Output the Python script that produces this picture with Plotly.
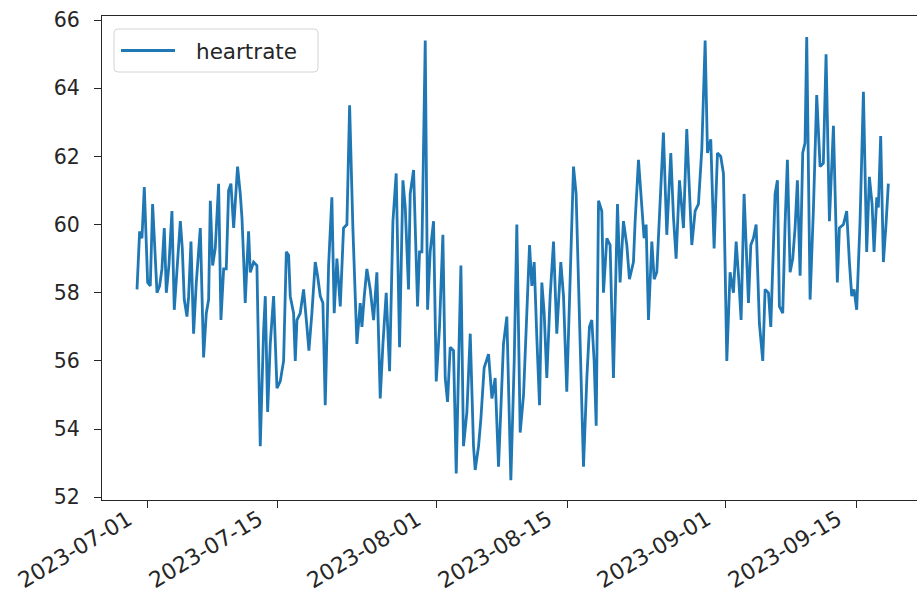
import pandas as pd
import plotly.graph_objects as go

# day offsets from 2023-07-01 and heartrate values
days = [
    -1.07, -0.79, -0.54, -0.29, -0.07, 0.07, 0.35, 0.60, 0.82, 1.07, 1.35, 1.60, 1.85, 2.07, 2.35, 2.67,
    2.92, 3.21, 3.57, 3.78, 3.99, 4.28, 4.46, 4.71, 4.99, 5.28, 5.71, 6.06, 6.35, 6.60, 6.78, 7.03,
    7.31, 7.67, 7.92, 8.21, 8.49, 8.74, 8.99, 9.28, 9.70, 9.99,
    10.17, 10.35, 10.52, 10.70, 10.88, 11.06, 11.42, 11.77, 12.13, 12.49, 12.67, 12.92, 13.20, 13.56,
    13.92, 14.27, 14.63, 14.92, 15.17, 15.34, 15.70, 15.88, 16.06, 16.41, 16.77, 17.13, 17.34, 17.66,
    18.02, 18.27, 18.56, 18.84, 19.09, 19.45, 19.80, 20.05, 20.34, 20.70, 21.05, 21.41, 21.70, 22.05,
    22.48, 22.84,
    23.02, 23.27, 23.55, 23.91, 24.27, 24.62, 24.98, 25.27, 25.62, 25.98, 26.34, 26.69, 27.05, 27.41,
    27.66, 28.01, 28.19, 28.55, 28.98, 29.19, 29.44, 29.80, 30.05, 30.33, 30.69, 30.98, 31.33, 31.69,
    31.94, 32.19, 32.47, 32.83, 33.12, 33.40, 33.62, 33.90, 34.26, 34.62, 34.97, 35.15, 35.51, 35.76,
    36.11, 36.58, 36.94, 37.29, 37.65,
    38.18, 38.54, 38.97, 39.33, 39.61, 39.97, 40.33, 40.68, 40.97, 41.22, 41.47, 41.75, 42.04, 42.29,
    42.54, 42.82, 43.18, 43.54, 43.89, 44.32, 44.61, 44.96, 45.32, 45.68, 45.96, 46.21, 46.46, 46.75,
    47.11, 47.39, 47.64, 47.89, 48.11, 48.36, 48.71, 48.89, 49.25, 49.60, 49.96, 50.39, 50.67, 51.03,
    51.39, 51.67,
    52.10, 52.28, 52.64, 52.99, 53.24, 53.46, 53.71, 54.07, 54.32, 54.60, 54.89, 55.31, 55.67, 56.10,
    56.39, 56.67, 57.03, 57.46, 57.81, 58.10, 58.35, 58.71, 59.06, 59.42, 59.78, 60.03, 60.38, 60.74,
    61.10, 61.45, 61.74, 62.10, 62.45, 62.81, 63.10, 63.38, 63.63, 63.95, 64.42, 64.67, 64.95, 65.24,
    65.59, 65.95, 66.20, 66.56, 66.81, 67.27, 67.52, 67.73, 68.09, 68.34, 68.59, 68.88, 69.16, 69.41,
    69.66, 69.95, 70.23, 70.48, 70.66, 71.02, 71.37, 71.73, 72.09, 72.44, 72.73, 73.09, 73.34, 73.52,
    73.94, 74.16, 74.59, 74.94, 75.23, 75.48, 75.73, 76.01, 76.37, 76.73, 77.08, 77.37, 77.66, 77.87,
    78.16, 78.33, 78.58, 78.87, 79.15, 79.40,
]
heartrate = [
    58.1, 59.8, 59.6, 61.1, 59.4, 58.3, 58.2, 60.6, 59.4, 58.0, 58.2, 58.7, 59.9, 58.0, 58.8, 60.4,
    57.5, 58.7, 60.1, 59.3, 57.8, 57.3, 57.9, 59.5, 56.8, 58.3, 59.9, 56.1, 57.4, 57.8, 60.7, 58.8,
    59.3, 61.2, 57.2, 58.7, 58.7, 61.0, 61.2, 59.9, 61.7, 60.9,
    60.2, 59.0, 57.7, 58.8, 59.8, 58.6, 58.9, 58.8, 53.5, 56.9, 57.9, 54.5, 56.5, 57.9,
    55.2, 55.4, 56.0, 59.2, 59.1, 57.9, 57.4, 56.0, 57.2, 57.4, 58.1, 57.0, 56.3, 57.4,
    58.9, 58.5, 57.9, 57.7, 54.7, 58.8, 60.8, 57.4, 59.0, 57.6, 59.9, 60.0, 63.5, 59.9,
    56.5, 57.7,
    57.0, 57.9, 58.7, 58.1, 57.2, 58.6, 54.9, 56.5, 58.0, 55.7, 60.1, 61.5, 56.4, 61.3,
    60.5, 58.1, 60.9, 61.6, 57.6, 59.2, 59.2, 65.4, 57.5, 59.2, 60.1, 55.4, 57.0, 59.7,
    55.5, 54.8, 56.4, 56.3, 52.7, 56.2, 58.8, 53.5, 54.5, 56.8, 53.5, 52.8, 53.5, 54.3,
    55.8, 56.2, 54.9, 55.5, 52.9,
    56.5, 57.3, 52.5, 56.0, 60.0, 53.9, 55.0, 57.4, 59.4, 58.2, 58.9, 56.7, 54.7, 58.3,
    57.4, 55.5, 57.9, 59.5, 56.8, 58.9, 57.9, 55.1, 58.6, 61.7, 60.9, 58.4, 56.0, 52.9,
    55.5, 57.0, 57.2, 56.0, 54.1, 60.7, 60.4, 58.0, 59.6, 59.4, 55.5, 60.6, 58.3, 60.1,
    59.4, 58.4,
    58.9, 60.1, 61.9, 60.4, 59.6, 60.0, 57.2, 59.5, 58.4, 58.6, 60.1, 62.7, 59.7, 62.1,
    60.2, 59.0, 61.3, 59.9, 62.8, 60.8, 59.4, 60.4, 60.6, 62.2, 65.4, 62.1, 62.5, 59.3,
    62.1, 62.0, 61.5, 56.0, 58.6, 58.0, 59.5, 58.4, 57.2, 60.9, 57.7, 59.4, 59.6, 60.0,
    57.1, 56.0, 58.1, 58.0, 57.0, 60.9, 61.3, 57.6, 57.4, 60.0, 61.9, 58.6, 59.0, 59.9,
    61.3, 58.5, 62.1, 62.4, 65.5, 57.8, 60.4, 63.8, 61.7, 61.8, 65.0, 60.1, 61.7, 62.9,
    58.3, 59.9, 60.0, 60.4, 58.9, 57.9, 58.1, 57.5, 60.1, 63.9, 59.2, 61.4, 60.6, 59.2,
    60.8, 60.5, 62.6, 58.9, 60.0, 61.2,
]

tick_dates = ["2023-07-01", "2023-07-15", "2023-08-01", "2023-08-15", "2023-09-01", "2023-09-15"]
y_ticks = [52, 54, 56, 58, 60, 62, 64, 66]
series_name = "heartrate"

base = pd.Timestamp("2023-07-01")
x = [base + pd.Timedelta(days=d) for d in days]

x_start = base + pd.Timedelta(days=-4.82)
x_end = base + pd.Timedelta(days=82.47)

W, H = 917, 608
ML, MR, MT, MB = 102, 0, 16, 108
PW, PH = W - ML - MR, H - MT - MB


def px(xp):
    return (xp - ML) / PW


def py(yp):
    return (H - MB - yp) / PH


font_family = "DejaVu Sans"
ink = "#262626"
line_color = "#1f77b4"

fig = go.Figure()
fig.add_trace(go.Scatter(
    x=x, y=heartrate, mode="lines", name=series_name,
    line=dict(color=line_color, width=2.8),
))

# x tick labels placed like matplotlib's rotated, right-aligned labels
annotations = []
for t in tick_dates:
    annotations.append(dict(
        x=t, y=0, xref="x", yref="paper", text=t, showarrow=False,
        textangle=-31, xanchor="right", yanchor="top",
        xshift=-8, yshift=-3,
        font=dict(family=font_family, size=22, color=ink),
    ))

# legend drawn as a framed box with a line sample
lx0, lx1, ly0, ly1, r = 114, 318, 29, 72, 4
path = (
    f"M {px(lx0 + r)},{py(ly0)} L {px(lx1 - r)},{py(ly0)} "
    f"Q {px(lx1)},{py(ly0)} {px(lx1)},{py(ly0 + r)} "
    f"L {px(lx1)},{py(ly1 - r)} Q {px(lx1)},{py(ly1)} {px(lx1 - r)},{py(ly1)} "
    f"L {px(lx0 + r)},{py(ly1)} Q {px(lx0)},{py(ly1)} {px(lx0)},{py(ly1 - r)} "
    f"L {px(lx0)},{py(ly0 + r)} Q {px(lx0)},{py(ly0)} {px(lx0 + r)},{py(ly0)} Z"
)
shapes = [
    dict(type="path", xref="paper", yref="paper", path=path,
         line=dict(color="#d4d4d4", width=1), fillcolor="rgba(255,255,255,0.8)"),
    dict(type="line", xref="paper", yref="paper",
         x0=px(121), x1=px(175), y0=py(50.5), y1=py(50.5),
         line=dict(color=line_color, width=2.8)),
]
annotations.append(dict(
    x=px(194), y=py(51), xref="paper", yref="paper", text=series_name,
    showarrow=False, xanchor="left", yanchor="middle",
    font=dict(family=font_family, size=21.5, color=ink),
))

fig.update_layout(
    width=W, height=H,
    margin=dict(l=ML, r=MR, t=MT, b=MB),
    paper_bgcolor="white", plot_bgcolor="white",
    font=dict(family=font_family, size=21, color=ink),
    showlegend=False,
    shapes=shapes,
    annotations=annotations,
    xaxis=dict(
        range=[x_start, x_end],
        tickvals=tick_dates, showticklabels=False,
        showgrid=False, zeroline=False,
        showline=True, linecolor=ink, linewidth=1.2, mirror=True,
        ticks="outside", ticklen=7, tickwidth=1.2, tickcolor=ink,
    ),
    yaxis=dict(
        range=[51.92, 66.12],
        tickvals=y_ticks,
        showgrid=False, zeroline=False,
        showline=True, linecolor=ink, linewidth=1.2,
        ticks="outside", ticklen=7, tickwidth=1.2, tickcolor=ink,
        ticklabelstandoff=10,
        tickfont=dict(family=font_family, size=20.5, color=ink),
    ),
)

fig.write_html("out.html")
